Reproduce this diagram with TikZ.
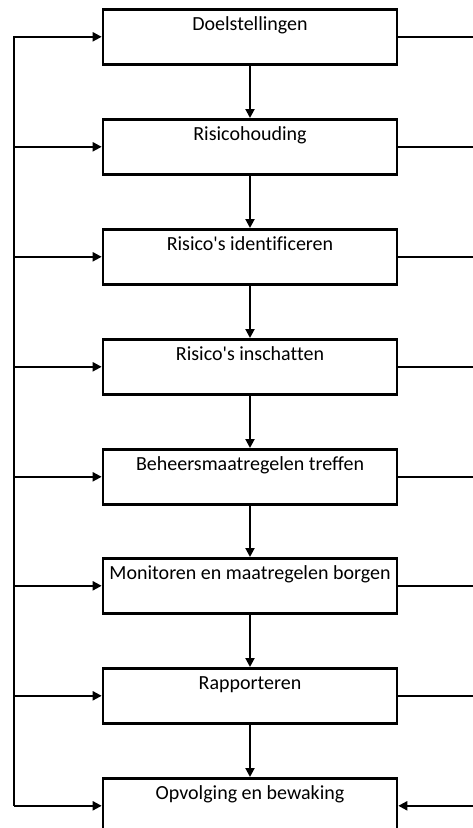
\documentclass[tikz,border=0pt]{standalone}
\usepackage{fontspec}
\setmainfont[Ligatures={NoCommon}]{Carlito}
\usetikzlibrary{arrows.meta}
\tikzset{
  stap/.style={draw, line width=2.6pt, rectangle, minimum width=294pt, inner xsep=0pt, inner ysep=0pt,
    text height=21pt, text depth=34pt, anchor=north, font=\fontsize{20}{24}\selectfont},
  lijn/.style={line width=2pt},
  pijl/.style={line width=2pt, -{Triangle[length=9pt,width=9pt]}}
}

\begin{document}
\begin{tikzpicture}[x=1pt, y=-1pt]
			%%%%% START %%%%%
			\useasboundingbox (0,0) rectangle (472,828);
			
			\node[stap] (doel) at (250, 8) {Doelstellingen};
			\node[stap] (houding) at (250, 118) {Risicohouding};
			\node[stap] (ident) at (250, 228) {Risico\textquotesingle s identificeren};
			\node[stap] (inschat) at (250, 338) {Risico\textquotesingle s inschatten};
			\node[stap] (beheer) at (250, 448) {Beheersmaatregelen treffen};
			\node[stap] (monitor) at (250, 557) {Monitoren en maatregelen borgen};
			\node[stap] (rapport) at (250, 667) {Rapporteren};
			\node[stap] (opvolg) at (250, 777) {Opvolging en bewaking};
			
			\coordinate (rail) at (14, 0);
			\coordinate (rand) at (474, 0);
			
			% omlaag door de stappen
			\draw[pijl] (doel) -- (houding);
			\draw[pijl] (houding) -- (ident);
			\draw[pijl] (ident) -- (inschat);
			\draw[pijl] (inschat) -- (beheer);
			\draw[pijl] (beheer) -- (monitor);
			\draw[pijl] (monitor) -- (rapport);
			\draw[pijl] (rapport) -- (opvolg);
			
			% links
			\draw[pijl] (rail |- opvolg.west) -- (rail |- doel.west) -- (doel.west);
			\draw[pijl] (rail |- houding.west) -- (houding.west);
			\draw[pijl] (rail |- ident.west) -- (ident.west);
			\draw[pijl] (rail |- inschat.west) -- (inschat.west);
			\draw[pijl] (rail |- beheer.west) -- (beheer.west);
			\draw[pijl] (rail |- monitor.west) -- (monitor.west);
			\draw[pijl] (rail |- rapport.west) -- (rapport.west);
			\draw[pijl] (rail |- opvolg.west) -- (opvolg.west);
			
			% rechts
			\draw[lijn] (doel.east) -- (rand |- doel.east);
			\draw[lijn] (houding.east) -- (rand |- houding.east);
			\draw[lijn] (ident.east) -- (rand |- ident.east);
			\draw[lijn] (inschat.east) -- (rand |- inschat.east);
			\draw[lijn] (beheer.east) -- (rand |- beheer.east);
			\draw[lijn] (monitor.east) -- (rand |- monitor.east);
			\draw[lijn] (rapport.east) -- (rand |- rapport.east);
			\draw[pijl] (rand |- opvolg.east) -- (opvolg.east);
			
			%%%%% END %%%%%
\end{tikzpicture}
\end{document}
